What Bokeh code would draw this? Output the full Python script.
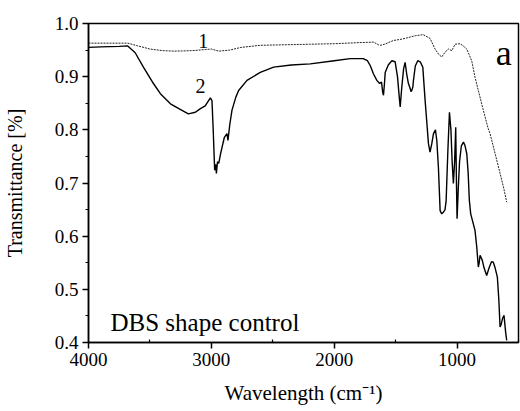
from bokeh.plotting import figure
from bokeh.models import Range1d, FixedTicker, PrintfTickFormatter, Label
from bokeh.embed import file_html
from bokeh.resources import INLINE

# ---- data ----
wn1 = [4000, 3800, 3680, 3600, 3500, 3400, 3300, 3150, 3050, 3000, 2940, 2850,
       2760, 2600, 2400, 2200, 2000, 1800, 1680, 1640, 1620, 1580, 1518, 1440,
       1341, 1276, 1220, 1179, 1150, 1125, 1098, 1071, 1043, 1016, 976, 950,
       921, 881, 854, 827, 790, 750, 732, 690, 650, 620, 596]
t1 = [0.963, 0.963, 0.963, 0.958, 0.952, 0.949, 0.948, 0.949, 0.951, 0.952, 0.948, 0.950,
      0.955, 0.959, 0.960, 0.961, 0.962, 0.964, 0.965, 0.960, 0.959, 0.962, 0.968, 0.971,
      0.977, 0.979, 0.972, 0.952, 0.942, 0.937, 0.946, 0.952, 0.949, 0.961, 0.962, 0.958,
      0.952, 0.930, 0.899, 0.874, 0.840, 0.805, 0.793, 0.755, 0.718, 0.690, 0.664]

wn2 = [4000, 3900, 3750, 3683, 3620, 3553, 3480, 3415, 3333, 3250, 3187, 3130,
       3089, 3050, 3020, 3008, 2995, 2985, 2973, 2965, 2959, 2950, 2940, 2925,
       2913, 2894, 2873, 2865, 2850, 2832, 2800, 2778, 2710, 2602, 2493, 2350,
       2195, 2000, 1870, 1764, 1730, 1707, 1680, 1653, 1630, 1615, 1605, 1599,
       1590, 1585, 1560, 1531, 1504, 1485, 1470, 1463, 1450, 1435, 1423, 1410,
       1396, 1385, 1375, 1369, 1360, 1355, 1340, 1320, 1300, 1279, 1260, 1245,
       1233, 1220, 1205, 1192, 1176, 1165, 1152, 1138, 1125, 1111, 1098, 1089,
       1075, 1062, 1050, 1040, 1030, 1020, 1011, 1005, 1000, 990, 980, 965,
       948, 935, 921, 910, 900, 889, 870, 854, 840, 827, 820, 813,
       795, 780, 759, 740, 720, 705, 690, 672, 660, 650, 640, 630,
       618, 605, 596]
t2 = [0.955, 0.956, 0.957, 0.958, 0.945, 0.918, 0.890, 0.868, 0.849, 0.838, 0.830, 0.833,
      0.840, 0.845, 0.856, 0.860, 0.855, 0.800, 0.724, 0.735, 0.718, 0.740, 0.737, 0.755,
      0.767, 0.786, 0.793, 0.780, 0.810, 0.837, 0.862, 0.874, 0.893, 0.908, 0.918, 0.922,
      0.924, 0.930, 0.934, 0.934, 0.930, 0.921, 0.905, 0.893, 0.887, 0.890, 0.870, 0.865,
      0.890, 0.908, 0.922, 0.930, 0.928, 0.900, 0.860, 0.843, 0.880, 0.915, 0.927, 0.905,
      0.887, 0.880, 0.872, 0.874, 0.880, 0.893, 0.920, 0.930, 0.928, 0.918, 0.855, 0.810,
      0.774, 0.758, 0.775, 0.793, 0.800, 0.780, 0.730, 0.648, 0.642, 0.645, 0.650, 0.667,
      0.760, 0.833, 0.800, 0.740, 0.699, 0.740, 0.805, 0.700, 0.633, 0.690, 0.740, 0.770,
      0.777, 0.770, 0.755, 0.720, 0.667, 0.642, 0.625, 0.611, 0.580, 0.542, 0.550, 0.564,
      0.555, 0.540, 0.526, 0.540, 0.552, 0.551, 0.540, 0.523, 0.480, 0.429, 0.435, 0.445,
      0.451, 0.420, 0.404]

x_ticks = [4000, 3000, 2000, 1000]
x_minor = [3500, 2500, 1500, 500]
y_ticks = [0.4, 0.5, 0.6, 0.7, 0.8, 0.9, 1.0]
y_minor = [0.45, 0.55, 0.65, 0.75, 0.85, 0.95]

FONT = "Liberation Serif"

p = figure(width=520, height=411, output_backend="svg", toolbar_location=None,
           x_range=Range1d(4000, 500), y_range=Range1d(0.4, 1.0),
           min_border_left=88, min_border_right=2, min_border_top=23,
           min_border_bottom=69)
p.background_fill_color = "white"
p.border_fill_color = "white"
p.grid.visible = False
p.outline_line_color = "black"
p.outline_line_width = 1.5

p.line(wn1, t1, line_color="#222222", line_width=1, line_dash="2 1")
p.line(wn2, t2, line_color="black", line_width=1.4)

xa = p.xaxis[0]
xa.ticker = FixedTicker(ticks=x_ticks, minor_ticks=x_minor)
xa.formatter = PrintfTickFormatter(format="%d")
xa.axis_label = "Wavelength (cm\u207b\u00b9)"
ya = p.yaxis[0]
ya.ticker = FixedTicker(ticks=y_ticks, minor_ticks=y_minor)
ya.formatter = PrintfTickFormatter(format="%.1f")
ya.axis_label = "Transmittance [%]"

for ax in (xa, ya):
    ax.axis_line_width = 1.5
    ax.axis_line_color = "black"
    ax.major_tick_line_width = 1.5
    ax.minor_tick_line_width = 1.2
    ax.major_tick_in = 0
    ax.major_tick_out = 6
    ax.major_label_text_font = FONT
    ax.major_label_text_font_size = "19px"
    ax.major_label_text_color = "black"
    ax.axis_label_text_font = FONT
    ax.axis_label_text_font_style = "normal"
    ax.axis_label_text_color = "black"
xa.axis_label_text_font_size = "21px"
ya.axis_label_text_font_size = "20px"
xa.minor_tick_in = 3
xa.minor_tick_out = 0
ya.minor_tick_in = 0
ya.minor_tick_out = 3
xa.major_label_standoff = 4
ya.major_label_standoff = 4
xa.axis_label_standoff = 12
ya.axis_label_standoff = 26

p.add_layout(Label(x=3065, y=0.968, text="1", text_font=FONT, text_font_size="20px",
                   text_align="center", text_baseline="middle", text_color="black"))
p.add_layout(Label(x=3089, y=0.883, text="2", text_font=FONT, text_font_size="20px",
                   text_align="center", text_baseline="middle", text_color="black"))
p.add_layout(Label(x=620, y=0.945, text="a", text_font=FONT, text_font_size="36px",
                   text_align="center", text_baseline="middle", text_color="black"))
p.add_layout(Label(x=3821, y=0.437, text="DBS shape control", text_font=FONT,
                   text_font_size="25px", text_align="left", text_baseline="alphabetic",
                   text_color="black"))

open("out.html", "w").write(file_html(p, INLINE))
